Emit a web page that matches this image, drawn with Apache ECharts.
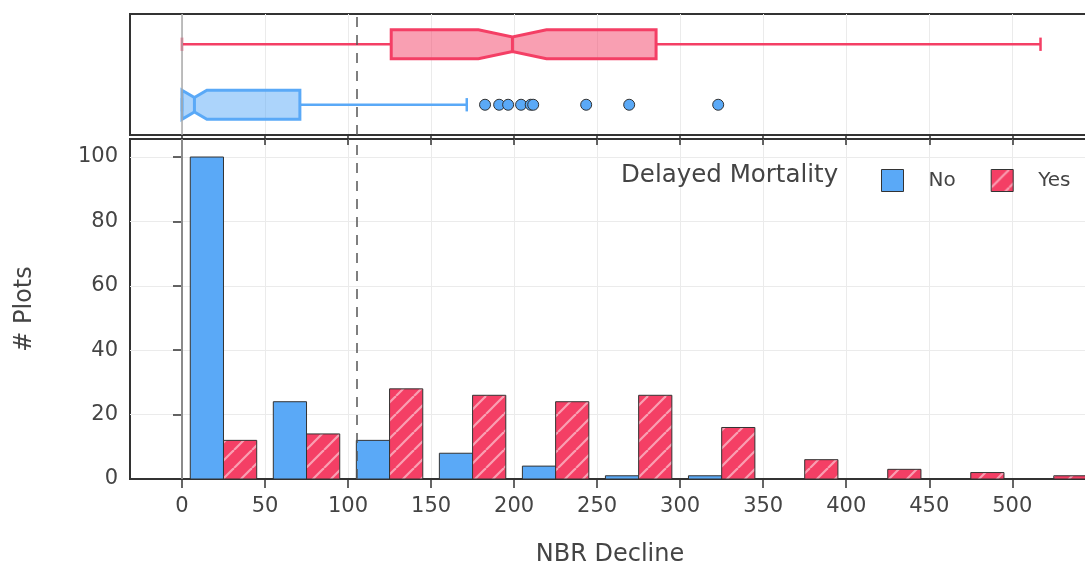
<!DOCTYPE html>
<html>
<head>
<meta charset="utf-8">
<script src="https://cdn.jsdelivr.net/npm/echarts@6/dist/echarts.min.js"></script>
<style>
  html, body { margin: 0; padding: 0; background: #fff; }
  #chart { width: 1085px; height: 567px; }
</style>
</head>
<body>
<div id="chart"></div>
<script>
// ---------- data ----------
const binEdges = [0, 50, 100, 150, 200, 250, 300, 350, 400, 450, 500, 550];
const noCounts  = [100, 24, 12, 8, 4, 1, 1, 0, 0, 0, 0];
const yesCounts = [12, 14, 28, 26, 24, 26, 16, 6, 3, 2, 1];

// box stats: [min, q1, median, q3, max, notchLow, notchHigh]
const noBox  = [0, 0, 7.5, 71, 171.5, 0, 15];
const yesBox = [0, 126, 199, 285.5, 517, 178.5, 219.5];
const noOutliers = [182.5, 191, 196.4, 204.2, 210, 211.5, 243.4, 269.3, 322.9];

const boxCategories = ['No', 'Yes'];
const xTickValues = [0, 50, 100, 150, 200, 250, 300, 350, 400, 450, 500];
const yTickValues = [0, 20, 40, 60, 80, 100];
const thresholdX = 105;

// ---------- styling ----------
const BLUE = '#5AA9F7';
const RED = '#F43F65';
const BLUE_FILL = 'rgba(90,169,247,0.5)';
const RED_FILL = 'rgba(244,63,101,0.5)';
const TXT = '#444';
const FONT = 'DejaVu Sans';

// hatch pattern for "Yes"
const tile = document.createElement('canvas');
const S = 18;
tile.width = S; tile.height = S;
const tctx = tile.getContext('2d');
tctx.fillStyle = RED;
tctx.fillRect(0, 0, S, S);
tctx.strokeStyle = 'rgba(255,255,255,0.5)';
tctx.lineWidth = 2.2;
for (const k of [-S, 0, S]) {
  tctx.beginPath();
  tctx.moveTo(k, S);
  tctx.lineTo(k + S, 0);
  tctx.stroke();
}
const hatch = { image: tile, repeat: 'repeat' };

const X_MIN = -31.3, X_MAX = 546.8;

function barRenderer(slot, fill) {
  return function (params, api) {
    const lo = api.value(0), hi = api.value(1), v = api.value(2);
    if (!v) return null;
    const w = hi - lo;
    const x0 = lo + w * 0.1 + slot * w * 0.4;
    const x1 = x0 + w * 0.4;
    const p0 = api.coord([x0, v]);
    const p1 = api.coord([x1, 0]);
    return {
      type: 'rect',
      shape: { x: p0[0], y: p0[1], width: p1[0] - p0[0], height: p1[1] - p0[1] },
      style: { fill: fill, stroke: '#333', lineWidth: 1 }
    };
  };
}

function boxRenderer(color, fillColor) {
  return function (params, api) {
    const cat = api.value(0);
    const mn = api.value(1), q1 = api.value(2), md = api.value(3), q3 = api.value(4),
          mx = api.value(5), nlo = api.value(6), nhi = api.value(7);
    const yc = api.coord([0, cat])[1];
    const band = api.size([0, 1])[1];
    const h = band * 0.24, hn = h * 0.5, cap = band * 0.11;
    const X = v => api.coord([v, cat])[0];
    const lineStyle = { stroke: color, lineWidth: 2.5, fill: null };
    return {
      type: 'group',
      children: [
        { type: 'line', shape: { x1: X(mn), y1: yc, x2: X(q1), y2: yc }, style: lineStyle },
        { type: 'line', shape: { x1: X(q3), y1: yc, x2: X(mx), y2: yc }, style: lineStyle },
        { type: 'line', shape: { x1: X(mn), y1: yc - cap, x2: X(mn), y2: yc + cap }, style: lineStyle },
        { type: 'line', shape: { x1: X(mx), y1: yc - cap, x2: X(mx), y2: yc + cap }, style: lineStyle },
        {
          type: 'polygon',
          shape: {
            points: [
              [X(q1), yc - h], [X(nlo), yc - h], [X(md), yc - hn], [X(nhi), yc - h], [X(q3), yc - h],
              [X(q3), yc + h], [X(nhi), yc + h], [X(md), yc + hn], [X(nlo), yc + h], [X(q1), yc + h]
            ]
          },
          style: { fill: fillColor, stroke: color, lineWidth: 3, lineJoin: 'miter' }
        },
        { type: 'line', shape: { x1: X(md), y1: yc - hn, x2: X(md), y2: yc + hn }, style: { stroke: color, lineWidth: 3 } }
      ]
    };
  };
}

const noBarData = noCounts.map((c, i) => [binEdges[i], binEdges[i + 1], c]);
const yesBarData = yesCounts.map((c, i) => [binEdges[i], binEdges[i + 1], c]);

const splitLineStyle = { show: true, lineStyle: { color: '#ebebeb', width: 1 } };

const chart = echarts.init(document.getElementById('chart'), null, { renderer: 'canvas' });
chart.setOption({
  backgroundColor: '#fff',
  animation: false,
  textStyle: { fontFamily: FONT },
  title: {
    text: 'Delayed Mortality',
    left: 621, top: 163, padding: 0,
    textStyle: { fontFamily: FONT, fontSize: 24.5, fontWeight: 'normal', color: TXT }
  },
  legend: {
    left: 881, top: 169, padding: 0,
    orient: 'horizontal',
    itemWidth: 22, itemHeight: 22, itemGap: 35,
    icon: 'rect',
    selectedMode: false,
    textStyle: { fontFamily: FONT, fontSize: 20, color: TXT, padding: [0, 0, 0, 20] },
    data: [
      { name: 'No', itemStyle: { color: BLUE, borderColor: '#333', borderWidth: 1 } },
      { name: 'Yes', itemStyle: { color: hatch, borderColor: '#333', borderWidth: 1 } }
    ]
  },
  grid: [
    { left: 130, right: -5, top: 14, height: 121, outerBoundsMode: 'none', containLabel: false,
      show: true, borderColor: '#333', borderWidth: 2, backgroundColor: 'transparent' },
    { left: 130, right: -5, top: 139, bottom: 88, outerBoundsMode: 'none', containLabel: false,
      show: true, borderColor: '#333', borderWidth: 2, backgroundColor: 'transparent' }
  ],
  xAxis: [
    {
      type: 'value', gridIndex: 0, min: X_MIN, max: X_MAX, position: 'bottom',
      axisLine: { show: true, onZero: false, lineStyle: { color: '#333', width: 2 } },
      axisTick: { show: true, length: 10, customValues: xTickValues, lineStyle: { color: '#333', width: 1.5 } },
      axisLabel: { show: false, customValues: xTickValues },
      splitLine: splitLineStyle
    },
    {
      type: 'value', gridIndex: 1, min: X_MIN, max: X_MAX, position: 'bottom',
      name: 'NBR Decline', nameLocation: 'middle', nameGap: 64,
      nameTextStyle: { fontFamily: FONT, fontSize: 24, color: TXT },
      axisLine: { show: true, onZero: false, lineStyle: { color: '#333', width: 2 } },
      axisTick: { show: true, length: 9, customValues: xTickValues, lineStyle: { color: '#333', width: 1.5 } },
      axisLabel: { show: true, customValues: xTickValues, margin: 17, fontFamily: FONT, fontSize: 21, color: TXT },
      splitLine: splitLineStyle
    }
  ],
  yAxis: [
    {
      type: 'category', gridIndex: 0, data: boxCategories,
      axisLine: { show: false }, axisTick: { show: false }, axisLabel: { show: false },
      splitLine: { show: false }
    },
    {
      type: 'value', gridIndex: 1, min: 0, max: 105.6,
      name: '# Plots', nameLocation: 'middle', nameGap: 93,
      nameTextStyle: { fontFamily: FONT, fontSize: 24, color: TXT },
      axisLine: { show: true, lineStyle: { color: '#333', width: 2 } },
      axisTick: { show: true, length: 9, customValues: yTickValues, lineStyle: { color: '#333', width: 1.5 } },
      axisLabel: { show: true, customValues: yTickValues, margin: 12, fontFamily: FONT, fontSize: 21, color: TXT },
      splitLine: splitLineStyle
    }
  ],
  series: [
    {
      type: 'line', name: 'refBottom', xAxisIndex: 1, yAxisIndex: 1, data: [], silent: true,
      markLine: {
        silent: true, symbol: 'none', label: { show: false },
        data: [
          { xAxis: 0, lineStyle: { color: '#aaa', width: 1.5, type: 'solid' } },
          { xAxis: thresholdX, lineStyle: { color: '#555', width: 1.5, type: [10, 8] } }
        ]
      }
    },
    {
      type: 'custom', name: 'No', xAxisIndex: 1, yAxisIndex: 1,
      itemStyle: { color: BLUE },
      encode: { x: [0, 1], y: 2 },
      renderItem: barRenderer(0, BLUE), data: noBarData, z: 3
    },
    {
      type: 'custom', name: 'Yes', xAxisIndex: 1, yAxisIndex: 1,
      itemStyle: { color: RED },
      encode: { x: [0, 1], y: 2 },
      renderItem: barRenderer(1, hatch), data: yesBarData, z: 3
    },
    {
      type: 'scatter', name: 'noOutliers', xAxisIndex: 0, yAxisIndex: 0,
      symbol: 'circle', symbolSize: 11,
      itemStyle: { color: BLUE, borderColor: '#333', borderWidth: 1, opacity: 1 },
      data: noOutliers.map(v => [v, 0]), z: 4,
      markLine: {
        silent: true, symbol: 'none', label: { show: false },
        data: [
          { xAxis: 0, lineStyle: { color: '#aaa', width: 1.5, type: 'solid' } },
          { xAxis: thresholdX, lineStyle: { color: '#555', width: 1.5, type: [10, 8] } }
        ]
      }
    },
    {
      type: 'custom', name: 'noBox', xAxisIndex: 0, yAxisIndex: 0,
      encode: { x: [1, 5], y: 0 },
      renderItem: boxRenderer(BLUE, BLUE_FILL),
      data: [[0].concat(noBox)], z: 3
    },
    {
      type: 'custom', name: 'yesBox', xAxisIndex: 0, yAxisIndex: 0,
      encode: { x: [1, 5], y: 0 },
      renderItem: boxRenderer(RED, RED_FILL),
      data: [[1].concat(yesBox)], z: 3
    }
  ]
});
</script>
</body>
</html>
